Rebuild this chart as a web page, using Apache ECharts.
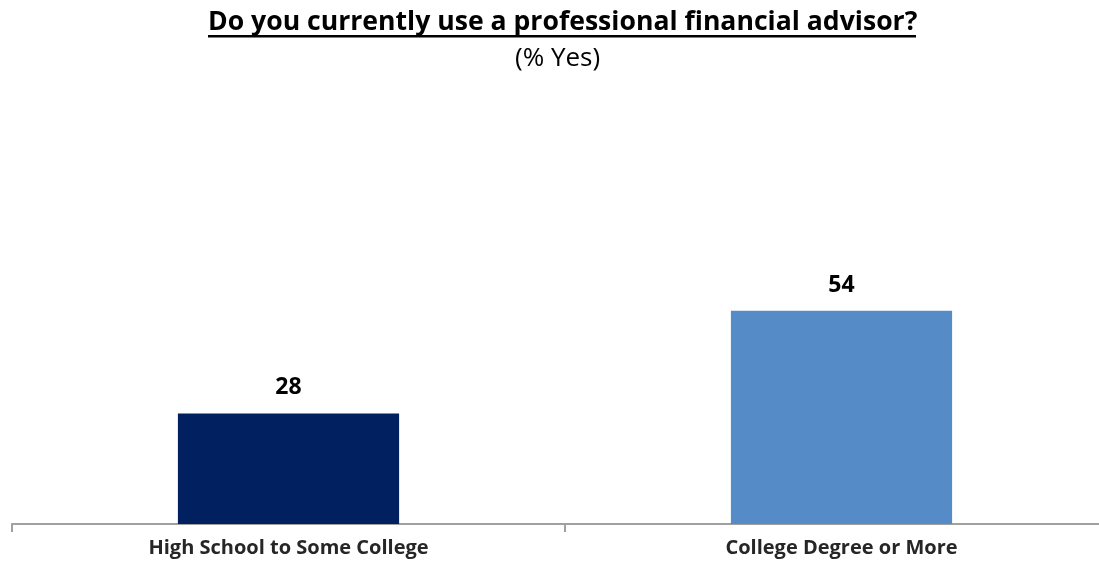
<!DOCTYPE html>
<html>
<head>
<meta charset="utf-8">
<script src="https://cdn.jsdelivr.net/npm/echarts@6/dist/echarts.min.js"></script>
<style>html,body{margin:0;padding:0;background:#fff}#c{width:1099px;height:562px}</style>
</head>
<body>
<div id="c"></div>
<script>
const categories = ['High School to Some College', 'College Degree or More'];
const values = [28, 54];
const barColors = ['#002060', '#558CC8'];
const titleText = 'Do you currently use a professional financial advisor?';
const subtitleText = '(% Yes)';

const chart = echarts.init(document.getElementById('c'));
chart.setOption({
  animation: false,
  title: [{
    text: titleText,
    left: 208,
    top: 9,
    padding: 0,
    textStyle: { fontFamily: 'Open Sans', fontWeight: 'bold', fontSize: 26.6, color: '#000' }
  }, {
    text: subtitleText,
    left: 515,
    top: 46,
    padding: 0,
    textStyle: { fontFamily: 'Open Sans', fontWeight: 'normal', fontSize: 26, color: '#000' }
  }],
  graphic: [{
    type: 'rect',
    shape: { x: 208, y: 35, width: 708, height: 2.5 },
    style: { fill: '#000' }
  }],
  grid: { left: 12, width: 1106, top: 129, bottom: 38, outerBoundsMode: 'none', containLabel: false },
  xAxis: {
    type: 'category',
    data: categories,
    axisLine: { lineStyle: { color: '#A0A0A0', width: 2 } },
    axisTick: { show: true, length: 8, lineStyle: { color: '#A0A0A0', width: 2 } },
    axisLabel: { fontFamily: 'Open Sans', fontWeight: 'bold', fontSize: 20, color: '#262626', margin: 14 }
  },
  yAxis: {
    type: 'value', min: 0, max: 100, show: false, splitLine: { show: false }
  },
  series: [{
    type: 'bar',
    data: values.map((v, i) => ({ value: v, itemStyle: { color: barColors[i] } })),
    barWidth: '40%',
    label: {
      show: true, position: 'top', distance: 14,
      fontFamily: 'Open Sans', fontWeight: 'bold', fontSize: 23, color: '#000'
    }
  }]
});
</script>
</body>
</html>
